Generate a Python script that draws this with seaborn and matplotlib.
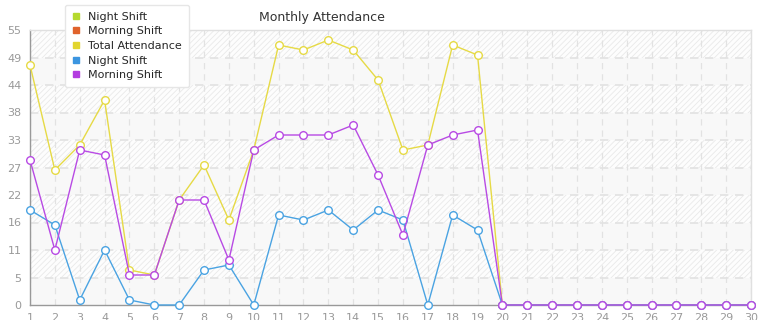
import matplotlib
matplotlib.use("Agg")
import matplotlib.pyplot as plt
import seaborn as sns
import pandas as pd
import numpy as np
from matplotlib.lines import Line2D

days = list(range(1, 31))
total = [48, 27, 32, 41, 7, 6, 21, 28, 17, 31, 52, 51, 53, 51, 45, 31, 32, 52, 50, 0,
         0, 0, 0, 0, 0, 0, 0, 0, 0, 0]
morning = [29, 11, 31, 30, 6, 6, 21, 21, 9, 31, 34, 34, 34, 36, 26, 14, 32, 34, 35, 0,
           0, 0, 0, 0, 0, 0, 0, 0, 0, 0]
night = [19, 16, 1, 11, 1, 0, 0, 7, 8, 0, 18, 17, 19, 15, 19, 17, 0, 18, 15, 0,
         0, 0, 0, 0, 0, 0, 0, 0, 0, 0]
yticks = [0, 5.5, 11, 16.5, 22, 27.5, 33, 38.5, 44, 49.5, 55]
ytick_labels = ["0", "5", "11", "16", "22", "27", "33", "38", "44", "49", "55"]
legend_labels = ["Night Shift", "Morning Shift", "Total Attendance", "Night Shift", "Morning Shift"]
legend_colors = ["#b5d92e", "#e0632b", "#e2d52f", "#3b95e0", "#b33de0"]

series_names = ["Total Attendance", "Night Shift", "Morning Shift"]
series_colors = {"Total Attendance": "#e6da45", "Night Shift": "#4aa3e2", "Morning Shift": "#b84ae4"}

df = pd.concat([
    pd.DataFrame({"day": days, "value": total, "series": "Total Attendance"}),
    pd.DataFrame({"day": days, "value": night, "series": "Night Shift"}),
    pd.DataFrame({"day": days, "value": morning, "series": "Morning Shift"}),
])

sns.set_theme(style="white")
plt.rcParams['font.family'] = ['DejaVu Sans']
fig = plt.figure(figsize=(7.65, 3.2), dpi=100)
ax = fig.add_axes([30/765, 1 - 305/320, 721/765, 275/320])

ax.set_xlim(1, 30)
ax.set_ylim(0, 55)

# banded hatched background
plt.rcParams['hatch.color'] = '#e9e9e9'
plt.rcParams['hatch.linewidth'] = 0.6
for i in range(len(yticks) - 1):
    if i % 2 == 1:
        ax.axhspan(yticks[i], yticks[i + 1], facecolor='#fdfdfd', edgecolor='#e9e9e9',
                   hatch='//////', linewidth=0, zorder=0)
    else:
        ax.axhspan(yticks[i], yticks[i + 1], facecolor='#f8f8f8', edgecolor='#f8f8f8',
                   linewidth=0, zorder=0)

for x in days:
    ax.axvline(x, color='#e2e2e2', lw=0.9, ls=(0, (5, 4)), zorder=1)
for y in yticks[1:-1]:
    ax.axhline(y, color='#e2e2e2', lw=1.2, ls=(0, (5, 4)), zorder=1)

sns.lineplot(data=df, x="day", y="value", hue="series", hue_order=series_names,
             palette=series_colors, marker="o", markersize=5.5, markerfacecolor="white",
             markeredgewidth=1.0, linewidth=1.0, legend=False, ax=ax, zorder=3)
for line, name in zip(ax.get_lines()[-3:], series_names):
    line.set_markeredgecolor(series_colors[name])
    line.set_clip_on(False)

ax.set_xticks(days)
ax.set_xticklabels([str(d) for d in days])
ax.set_yticks(yticks)
ax.set_yticklabels(ytick_labels)
ax.tick_params(axis='both', colors='#999999', labelsize=8, length=4, width=0.8, pad=2)
ax.set_xlabel("")
ax.set_ylabel("")

for s in ['top', 'right']:
    ax.spines[s].set_color('#e0e0e0')
    ax.spines[s].set_linewidth(1)
for s in ['left', 'bottom']:
    ax.spines[s].set_color('#999999')
    ax.spines[s].set_linewidth(1)

fig.text(322/765, 1 - 17/320, "Monthly Attendance", ha='center', va='center',
         fontsize=9, color='#333333')

handles = [Line2D([0], [0], marker='s', color='none', markerfacecolor=c, markeredgecolor=c,
                  markersize=5) for c in legend_colors]
leg = fig.legend(handles, legend_labels, loc='upper left', bbox_to_anchor=(65/765, 1 - 5/320),
                 fontsize=8, frameon=True, fancybox=True, handlelength=0.8, handletextpad=0.7,
                 labelspacing=0.42, borderpad=0.6, borderaxespad=0)
leg.get_frame().set_facecolor('white')
leg.get_frame().set_edgecolor('#e6e6e6')
leg.get_frame().set_alpha(1)
leg.set_zorder(10)

fig.savefig("out.png", dpi=100)
